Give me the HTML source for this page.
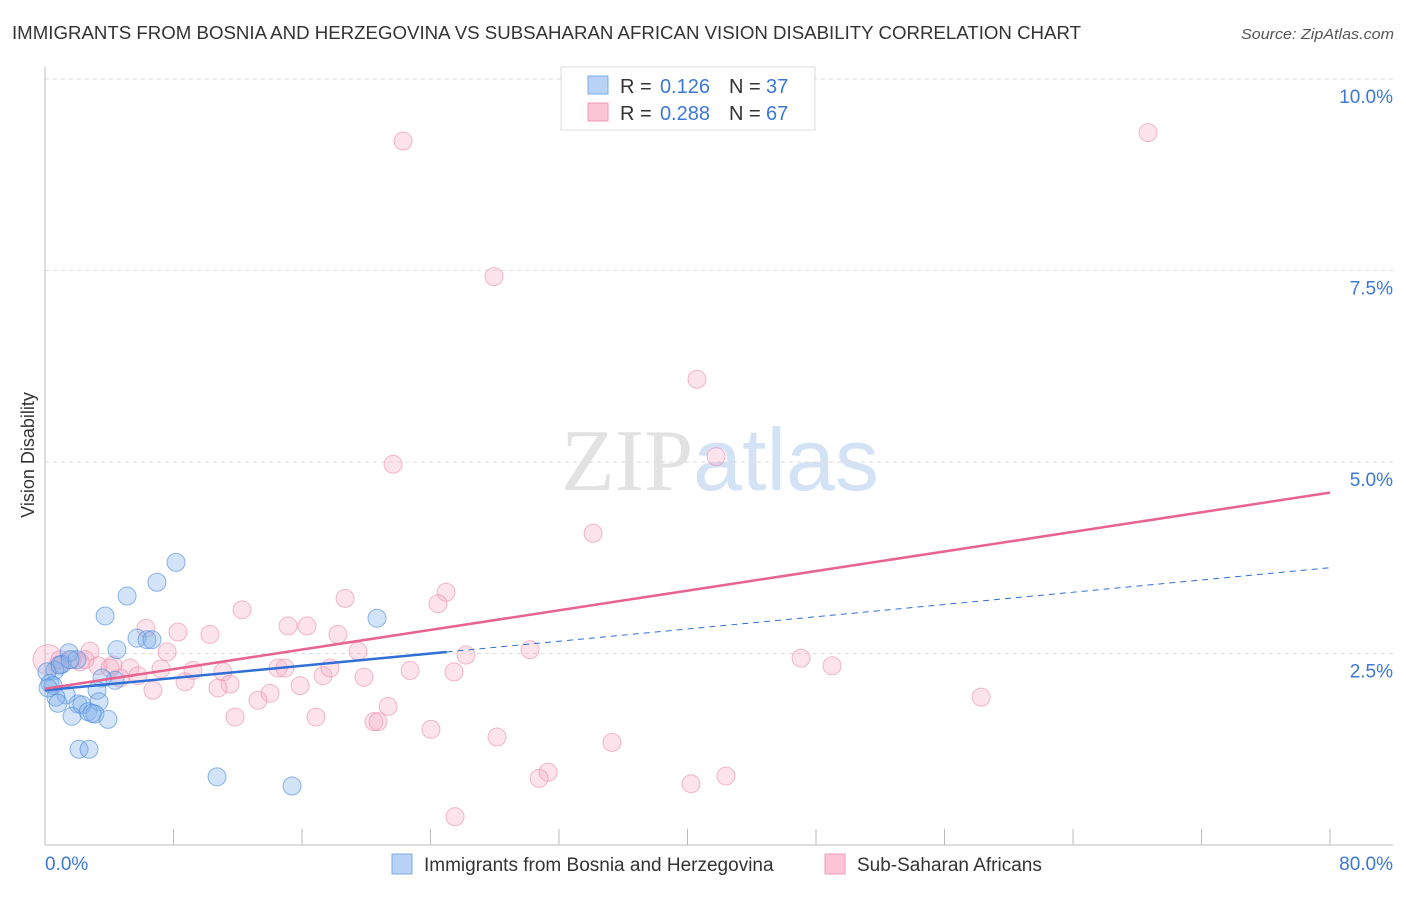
<!DOCTYPE html>
<html><head><meta charset="utf-8"><style>
body{margin:0;background:#fff;font-family:"Liberation Sans",sans-serif;}
svg text{font-family:"Liberation Sans",sans-serif;}
</style></head><body>
<svg id="chart" width="1406" height="892" xmlns="http://www.w3.org/2000/svg">
<text x="12" y="39" font-size="18" fill="#333" textLength="1069" lengthAdjust="spacingAndGlyphs">IMMIGRANTS FROM BOSNIA AND HERZEGOVINA VS SUBSAHARAN AFRICAN VISION DISABILITY CORRELATION CHART</text>
<text x="1241" y="39" font-size="15" fill="#555" font-style="italic" textLength="153" lengthAdjust="spacingAndGlyphs">Source: ZipAtlas.com</text>
<text x="720" y="490" font-size="88" text-anchor="middle"><tspan fill="#e2e2e2" font-family="Liberation Serif">ZIP</tspan><tspan fill="#d3e3f5">atlas</tspan></text>
<text transform="translate(34,455) rotate(-90)" font-size="18" fill="#333" text-anchor="middle">Vision Disability</text>
<g id="grid"></g><g id="axes"></g><g id="marks"></g>
<g>
<rect x="561" y="67" width="254" height="63" fill="#fff" stroke="#ddd"/>
<rect x="588" y="76" width="20" height="18" fill="#b8d3f5" stroke="#7aaee8"/>
<rect x="588" y="103" width="20" height="18" fill="#fbc5d5" stroke="#f09ab6"/>
<text x="620" y="93" font-size="20" fill="#333">R =</text>
<text x="710" y="93" font-size="20" fill="#3b78d8" text-anchor="end">0.126</text>
<text x="729" y="93" font-size="20" fill="#333">N =</text>
<text x="766" y="93" font-size="20" fill="#3b78d8">37</text>
<text x="620" y="120" font-size="20" fill="#333">R =</text>
<text x="710" y="120" font-size="20" fill="#3b78d8" text-anchor="end">0.288</text>
<text x="729" y="120" font-size="20" fill="#333">N =</text>
<text x="766" y="120" font-size="20" fill="#3b78d8">67</text>
</g>
<g>
<rect x="392" y="854" width="20" height="20" fill="#b8d3f5" stroke="#7aaee8"/>
<text x="424" y="871" font-size="19" fill="#333">Immigrants from Bosnia and Herzegovina</text>
<rect x="825" y="854" width="20" height="20" fill="#fbc5d5" stroke="#f09ab6"/>
<text x="857" y="871" font-size="19" fill="#333">Sub-Saharan Africans</text>
</g>
</svg>
<script>
const yTicks=[2.5,5,7.5,10];
const yTickLabels=["2.5%","5.0%","7.5%","10.0%"];
const xTickLabels=["0.0%","80.0%"];
const blueX=[8.16,6.97,5.11,3.74,5.73,6.35,6.66,4.48,1.49,1.99,1.06,0.62,0.12,0.31,0.50,4.36,3.55,3.24,1.31,0.68,0.81,2.05,3.36,2.30,2.68,3.11,1.68,3.92,2.93,2.12,2.74,10.71,15.38,20.67,0.19,0.93,1.56];
const blueY=[3.69,3.43,3.25,2.99,2.70,2.68,2.68,2.55,2.51,2.42,2.36,2.28,2.26,2.11,2.08,2.15,2.18,2.02,1.96,1.93,1.85,1.84,1.87,1.83,1.74,1.71,1.68,1.64,1.72,1.25,1.25,0.89,0.77,2.96,2.05,2.35,2.42];
const pinkX=[22.29,68.67,27.95,40.59,21.67,41.78,34.12,24.97,24.47,18.68,12.27,6.29,8.28,10.27,15.13,16.31,18.24,2.80,7.60,30.20,26.21,47.07,49.00,19.49,14.51,14.94,11.08,9.21,7.22,5.29,4.23,3.30,2.18,1.68,0.81,0.19,5.79,4.67,8.72,22.73,25.46,17.31,11.52,10.77,15.88,19.86,14.01,6.72,13.26,21.36,11.83,16.87,20.48,20.73,24.03,28.14,35.30,58.28,31.32,30.76,42.40,40.22,25.53,0.93,2.49,4.05,17.74];
const pinkY=[9.19,9.30,7.42,6.08,4.97,5.07,4.07,3.30,3.15,3.22,3.07,2.83,2.78,2.75,2.86,2.86,2.75,2.53,2.52,2.55,2.48,2.44,2.34,2.53,2.31,2.31,2.26,2.28,2.30,2.31,2.35,2.34,2.39,2.42,2.35,2.42,2.21,2.18,2.13,2.28,2.26,2.21,2.10,2.05,2.08,2.19,1.98,2.02,1.89,1.81,1.67,1.67,1.61,1.61,1.51,1.41,1.34,1.93,0.95,0.87,0.90,0.80,0.37,2.42,2.42,2.31,2.31];
const blueTrend=[2.02,0.0200];
const blueSolidEnd=25.0;
const pinkTrend=[2.04,0.0320];
const NS="http://www.w3.org/2000/svg";
const xs=v=>45+v/80*1285, ys=v=>845-v/10*766;
function mk(t,a,p){const e=document.createElementNS(NS,t);for(const k in a)e.setAttribute(k,a[k]);document.getElementById(p).appendChild(e);return e;}
yTicks.forEach((t,i)=>{
 const l=mk('line',{x1:45,x2:1393,y1:ys(t),y2:ys(t),stroke:'#ddd','stroke-dasharray':'4,4'},'grid');
 
 
 const tx=mk('text',{x:1393,y:ys(t)+24,'font-size':19,fill:'#3b78d8','text-anchor':'end'},'grid');
 tx.textContent=yTickLabels[i];
 
 
});
mk('line',{x1:45,x2:45,y1:67,y2:845,stroke:'#bbb'},'axes');
mk('line',{x1:45,x2:1393,y1:845,y2:845,stroke:'#bbb'},'axes');
for(let i=0;i<=10;i++){const l=mk('line',{x1:xs(i*8),x2:xs(i*8),y1:829,y2:845,stroke:'#bbb'},'axes');
 
 }
[[0,45,'start'],[80,1393,'end']].forEach((d,i)=>{const t=mk('text',{x:d[1],y:870,'font-size':19,fill:'#3b78d8','text-anchor':d[2]},'axes');t.textContent=xTickLabels[i];
 
 });
function dots(X,Y,fill,stroke,name){X.forEach((x,i)=>{const r=(name==='pink-point'&&i===35)?15:9;
 const c=mk('circle',{cx:xs(x),cy:ys(Y[i]),r:r,fill:fill,stroke:stroke,'stroke-width':1},'marks');
 
 });}
dots(pinkX,pinkY,'rgba(246,175,200,0.35)','rgba(235,140,170,0.6)','pink-point');
dots(blueX,blueY,'rgba(130,178,235,0.35)','rgba(70,135,220,0.6)','blue-point');
let l=mk('line',{x1:xs(0),y1:ys(blueTrend[0]),x2:xs(blueSolidEnd),y2:ys(blueTrend[0]+blueTrend[1]*blueSolidEnd),stroke:'#2f6fd6','stroke-width':2.5},'marks');


l=mk('line',{x1:xs(blueSolidEnd),y1:ys(blueTrend[0]+blueTrend[1]*blueSolidEnd),x2:xs(80),y2:ys(blueTrend[0]+blueTrend[1]*80),stroke:'#2f6fd6','stroke-width':1,'stroke-dasharray':'6,5'},'marks');


l=mk('line',{x1:xs(0),y1:ys(pinkTrend[0]),x2:xs(80),y2:ys(pinkTrend[0]+pinkTrend[1]*80),stroke:'#e8638f','stroke-width':2.5},'marks');


</script>
</body></html>
